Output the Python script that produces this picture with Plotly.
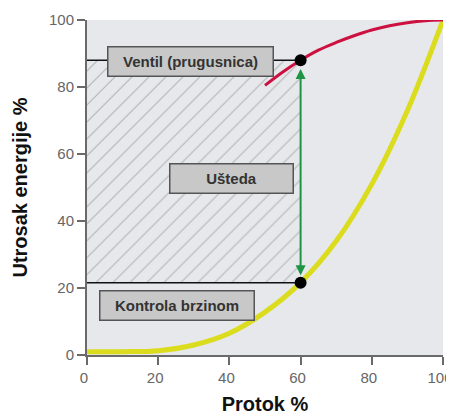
import plotly.graph_objects as go

# Data
flow = [0, 10, 20, 30, 40, 50, 60, 70, 80, 90, 100]
speed_energy = [1, 1, 1.3, 3, 6.5, 12.8, 21.6, 34, 51, 73, 100]
valve_flow = [50, 55, 60, 65, 70, 75, 80, 85, 90, 95, 100]
valve_energy = [80.5, 84.5, 88, 91, 93.3, 95.3, 97, 98.3, 99.2, 99.8, 100]
op_flow = 60
op_valve = 88
op_speed = 21.6
tick_vals = [0, 20, 40, 60, 80, 100]
lbl_valve = "Ventil (prugusnica)"
lbl_saving = "Ušteda"
lbl_speed = "Kontrola brzinom"
x_title = "Protok %"
y_title = "Utrosak energije %"

PLOT_BG = "#e7e8eb"
AX = "#6a6a6a"
FONT = "Liberation Sans, Arial, sans-serif"

fig = go.Figure()

# hatched savings area
fig.add_trace(go.Scatter(
    x=[0, op_flow, op_flow, 0, 0],
    y=[op_speed, op_speed, op_valve, op_valve, op_speed],
    fill="toself", mode="lines", line=dict(width=0),
    fillcolor=PLOT_BG,
    fillpattern=dict(shape="/", size=12, fgcolor="#7f7f7f", bgcolor=PLOT_BG, solidity=0.09),
    hoverinfo="skip", showlegend=False))

# reference lines
fig.add_trace(go.Scatter(x=[0, op_flow], y=[op_valve, op_valve], mode="lines",
                         line=dict(color="#111", width=1.5), showlegend=False))
fig.add_trace(go.Scatter(x=[0, op_flow], y=[op_speed, op_speed], mode="lines",
                         line=dict(color="#111", width=1.5), showlegend=False))

# curves
fig.add_trace(go.Scatter(x=flow, y=speed_energy, mode="lines", line_shape="spline",
                         line=dict(color="#dcdc1e", width=5), showlegend=False))
fig.add_trace(go.Scatter(x=valve_flow, y=valve_energy, mode="lines", line_shape="spline",
                         line=dict(color="#cc1040", width=3), showlegend=False))

# operating points
fig.add_trace(go.Scatter(x=[op_flow, op_flow], y=[op_valve, op_speed], mode="markers",
                         marker=dict(color="#000", size=12), showlegend=False, cliponaxis=False))

annotations = [
    dict(x=op_flow, y=op_speed + 2.2, ax=op_flow, ay=op_valve - 2.2,
         xref="x", yref="y", axref="x", ayref="y", text="", showarrow=True,
         arrowhead=2, arrowside="end+start", arrowsize=1, arrowwidth=2, arrowcolor="#1e9445"),
]
for txt, cx, cy, w in [(lbl_valve, 29.1, 87.5, 162), (lbl_saving, 40.7, 52.8, 120), (lbl_speed, 25.4, 14.9, 151)]:
    annotations.append(dict(
        x=cx, y=cy, xref="x", yref="y", text="<b>" + txt + "</b>", showarrow=False,
        width=w, height=26, bgcolor="#c8c8c8", bordercolor="#555", borderwidth=1.5, borderpad=1,
        font=dict(family=FONT, size=15, color="#333")))

fig.update_layout(
    width=454, height=415,
    margin=dict(l=79, r=19, t=12, b=68, autoexpand=False),
    paper_bgcolor="white", plot_bgcolor=PLOT_BG,
    annotations=annotations,
    xaxis=dict(range=[0, 100], tickvals=tick_vals, showgrid=False, zeroline=False, automargin=False,
               showline=True, linecolor=AX, linewidth=2, ticks="outside", ticklen=8,
               tickwidth=2, tickcolor=AX, tickfont=dict(family=FONT, size=15, color="#666"),
               ticklabelshift=-3,
               title=dict(text="<b>" + x_title + "</b>", font=dict(family=FONT, size=20, color="#111"), standoff=12)),
    yaxis=dict(range=[0, 100], tickvals=tick_vals, showgrid=False, zeroline=False, automargin=False,
               showline=True, linecolor=AX, linewidth=2, ticks="outside", ticklen=8,
               tickwidth=2, tickcolor=AX, tickfont=dict(family=FONT, size=15, color="#666"),
               title=dict(text="<b>" + y_title + "</b>", font=dict(family=FONT, size=20, color="#111"), standoff=16)),
)

fig.write_html("out.html")
